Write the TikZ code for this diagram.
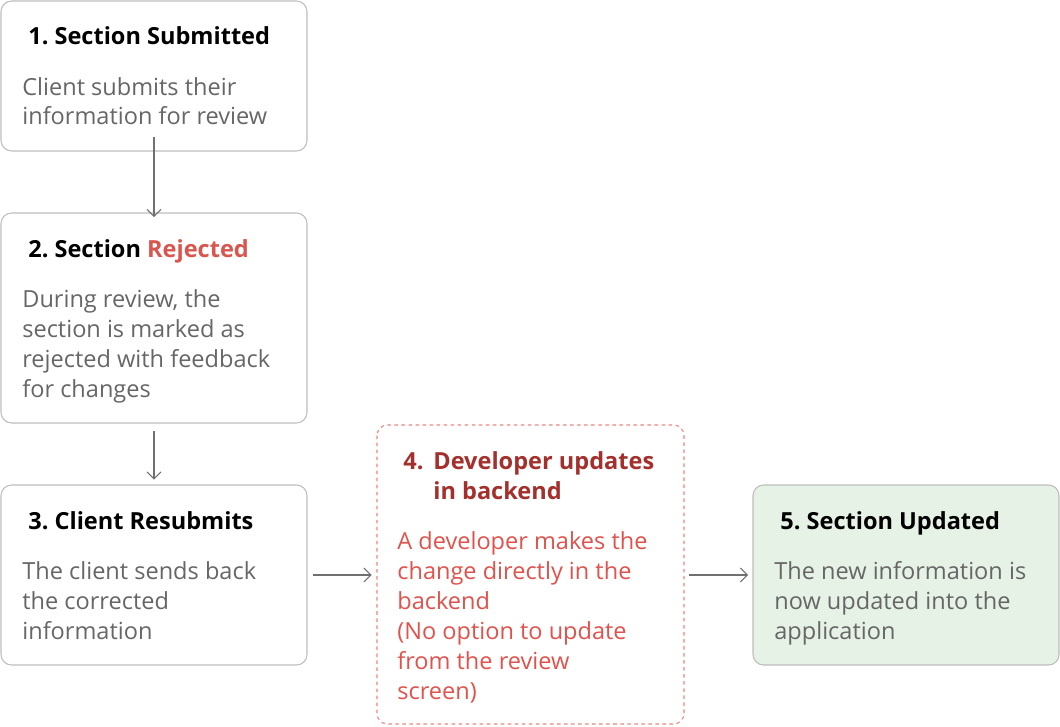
\documentclass[tikz,border=0pt]{standalone}
\usepackage{fontspec}
\setmainfont{Open Sans}
\usetikzlibrary{positioning,arrows.meta}
\definecolor{boxline}{HTML}{BDBDBD}
\definecolor{bodygrey}{HTML}{666666}
\definecolor{rejred}{HTML}{D9564E}
\definecolor{devred}{HTML}{A3302C}
\definecolor{bodyred}{HTML}{E0524C}
\definecolor{upgreen}{HTML}{E6F2E6}
\definecolor{arrowgrey}{HTML}{707070}
\begin{document}
\begin{tikzpicture}[x=0.02cm,y=-0.02cm,
    box/.style={draw=boxline, rounded corners=6pt, line width=0.6pt},
    title/.style={anchor=base west, inner sep=0pt, font=\fontsize{13.4}{17}\selectfont\bfseries},
    body/.style={anchor=base west, inner sep=0pt, align=left, text=bodygrey, font=\fontsize{13.4}{17}\selectfont},
    flow/.style={draw=arrowgrey, line width=0.6pt, -{Straight Barb[length=4pt,width=8pt]}}]
    \useasboundingbox (0,0) rectangle (1060,726);
    % boxes
    \node[inner sep=0pt] (s1) at (154,76) [minimum width=6.12cm, minimum height=3cm] {};
    \node[inner sep=0pt] (s2) at (154,318) [minimum width=6.12cm, minimum height=4.22cm] {};
    \node[inner sep=0pt] (s3) at (154,575) [minimum width=6.12cm, minimum height=3.6cm] {};
    \node[inner sep=0pt] (s4) at (530,575) [minimum width=6.16cm, minimum height=5.98cm] {};
    \node[inner sep=0pt] (s5) at (906,575) [minimum width=6.14cm, minimum height=3.6cm] {};
    \path[box] (1,1) rectangle (307,151);
    \path[box] (1,213) rectangle (307,423);
    \path[box] (1,485) rectangle (307,665);
    \path[box, draw=bodyred!70, dashed, dash pattern=on 2pt off 2pt] (377,425) rectangle (684,724);
    \path[box, fill=upgreen] (753,485) rectangle (1059,665);
    % texts
    \node[title] at (28,45) {1.\ Section Submitted};
    \node[body] at (22,125) {Client submits their\\information for review};
    \node[title] at (28,257) {2.\ Section \textcolor{rejred}{Rejected}};
    \node[body] at (22,397) {During review, the\\section is marked as\\rejected with feedback\\for changes};
    \node[title] at (28,529) {3.\ Client Resubmits};
    \node[body] at (22,639) {The client sends back\\the corrected\\information};
    \node[title, text=devred] at (403,469) {4.};
    \node[title, text=devred, align=left] at (433,499) {Developer updates\\in backend};
    \node[body, text=bodyred] at (397,699) {A developer makes the\\change directly in the\\backend\\(No option to update\\from the review\\screen)};
    \node[title] at (780,529) {5.\ Section Updated};
    \node[body] at (774,639) {The new information is\\now updated into the\\application};
    % connectors
    \draw[flow] (s1.south) ++(0,-14) -- ([yshift=-0.1cm]s2.north);
    \draw[flow] ([yshift=-0.14cm]s2.south) -- ([yshift=0.1cm]s3.north);
    \draw[flow] ([xshift=0.12cm]s3.east) -- ([xshift=-0.08cm]s4.west);
    \draw[flow] ([xshift=0.1cm]s4.east) -- ([xshift=-0.08cm]s5.west);
\end{tikzpicture}
\end{document}
